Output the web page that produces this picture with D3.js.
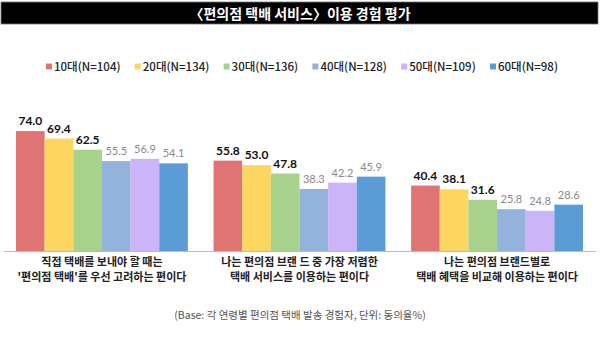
<!DOCTYPE html>
<html>
<head>
<meta charset="utf-8">
<script src="https://cdn.jsdelivr.net/npm/d3@7"></script>
<style>
  body { margin: 0; background: #fff; }
  svg { display: block; font-family: "Noto Sans CJK KR", "Noto Sans", sans-serif; }
</style>
</head>
<body>
<svg id="chart" width="600" height="339"></svg>
<script>
const ages = ["10대(N=104)", "20대(N=134)", "30대(N=136)", "40대(N=128)", "50대(N=109)", "60대(N=98)"];
const ageColors = ["#e07474", "#fdd661", "#a8d28c", "#93b2dc", "#cbb4f8", "#5b9bd6"];
const statements = [
    ["직접 택배를 보내야 할 때는", "'편의점 택배'를 우선 고려하는 편이다"],
    ["나는 편의점 브랜 드 중 가장 저렴한", "택배 서비스를 이용하는 편이다"],
    ["나는 편의점 브랜드별로", "택배 혜택을 비교해 이용하는 편이다"]
];
const values = [
    [74.0, 69.4, 62.5, 55.5, 56.9, 54.1],
    [55.8, 53.0, 47.8, 38.3, 42.2, 45.9],
    [40.4, 38.1, 31.6, 25.8, 24.8, 28.6]
];
// the CJK bracket already carries its own trailing space
const titleText = "〈편의점 택배 서비스〉이용 경험 평가";
const footText = "(Base: 각 연령별 편의점 택배 발송 경험자, 단위: 동의율%)";

const svg = d3.select("#chart");
const baseY = 251;

// title bar
svg.append("rect")
    .attr("x", 1).attr("y", 2)
    .attr("width", 597).attr("height", 22)
    .attr("fill", "#000")
    .attr("stroke", "#777").attr("stroke-width", 0.8);
svg.append("text")
    .attr("x", 300).attr("y", 18.5)
    .attr("text-anchor", "middle")
    .attr("fill", "#fff")
    .attr("font-size", "14px")
    .attr("font-weight", "bold")
    .text(titleText);

// legend
const legendX = d3.scalePoint().domain(ages).range([46, 490]);
let legend = svg.append("g").selectAll("g")
    .data(ages)
    .enter()
    .append("g")
    .attr("transform", function(d) { return "translate(" + legendX(d) + ",67)"; });
legend.append("rect")
    .attr("x", 0).attr("y", -3.5)
    .attr("width", 6).attr("height", 6)
    .attr("fill", function(d, i) { return ageColors[i]; });
legend.append("text")
    .attr("x", 8).attr("y", 4)
    .attr("font-size", "11.5px")
    .attr("font-weight", "500")
    .attr("fill", "#222")
    .text(function(d) { return d; });

// scales
let x0 = d3.scaleBand()
    .domain(d3.range(statements.length))
    .range([16, 583])
    .paddingInner(0.13);
let x1 = d3.scaleBand()
    .domain(ages)
    .range([0, x0.bandwidth()]);
let y = d3.scaleLinear()
    .domain([0, 100])
    .range([baseY, baseY - 162]);

let groups = svg.append("g").selectAll("g")
    .data(values)
    .enter()
    .append("g")
    .attr("transform", function(d, i) { return "translate(" + x0(i) + ",0)"; });

groups.selectAll("rect")
    .data(function(d) { return d.map(function(v, i) { return {age: ages[i], value: v, idx: i}; }); })
    .enter()
    .append("rect")
    .attr("x", function(d) { return x1(d.age); })
    .attr("y", function(d) { return y(d.value); })
    .attr("width", x1.bandwidth())
    .attr("height", function(d) { return baseY - y(d.value); })
    .attr("fill", function(d) { return ageColors[d.idx]; });

// value labels: first three ages in bold black, the rest in grey
groups.selectAll("text")
    .data(function(d) { return d.map(function(v, i) { return {age: ages[i], value: v, idx: i}; }); })
    .enter()
    .append("text")
    .attr("x", function(d) { return x1(d.age) + x1.bandwidth() / 2; })
    .attr("y", function(d) { return y(d.value) - 6; })
    .attr("text-anchor", "middle")
    .attr("font-family", "Lato, 'Noto Sans', sans-serif")
    .attr("font-size", function(d) { return d.idx < 3 ? "12px" : "11px"; })
    .attr("font-weight", function(d) { return d.idx < 3 ? "bold" : "normal"; })
    .attr("fill", function(d) { return d.idx < 3 ? "#111" : "#8a8a8a"; })
    .text(function(d) { return d.value.toFixed(1); });

// baseline
svg.append("line")
    .attr("x1", 4).attr("x2", 596)
    .attr("y1", baseY + 0.5).attr("y2", baseY + 0.5)
    .attr("stroke", "#bdbdbd").attr("stroke-width", 1);

// category labels
let cats = svg.append("g").selectAll("text")
    .data(statements)
    .enter()
    .append("text")
    .attr("text-anchor", "middle")
    .attr("font-size", "11px")
    .attr("font-weight", "600")
    .attr("fill", "#222");
cats.selectAll("tspan")
    .data(function(d, i) { return d.map(function(s) { return {s: s, i: i}; }); })
    .enter()
    .append("tspan")
    .attr("x", function(d) { return x0(d.i) + x0.bandwidth() / 2; })
    .attr("y", function(d, j) { return 266 + j * 14.5; })
    .text(function(d) { return d.s; });

// footnote
svg.append("text")
    .attr("x", 300).attr("y", 319)
    .attr("text-anchor", "middle")
    .attr("font-size", "10.5px")
    .attr("fill", "#555")
    .text(footText);
</script>
</body>
</html>
